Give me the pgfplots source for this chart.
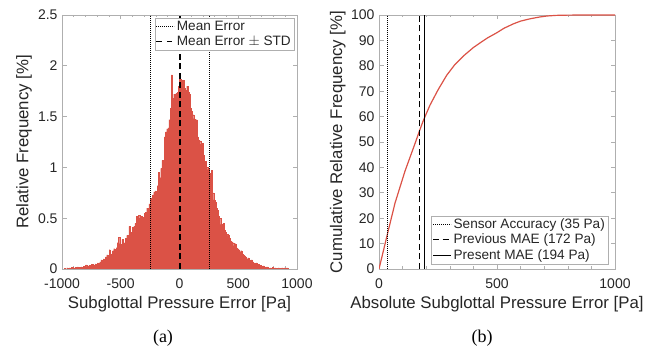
\documentclass[border=0pt]{standalone}
\usepackage{pgfplots}
\pgfplotsset{compat=1.18}
\usepackage{fontspec}
\setmainfont{Liberation Sans}
\newfontfamily\seriffont{Liberation Serif}
\definecolor{histred}{RGB}{219,82,70}
\definecolor{axgray}{RGB}{175,175,175}
\definecolor{txt}{RGB}{38,38,38}
\pgfplotsset{
 myax/.style={
  scale only axis, anchor=south west,
  axis line style={axgray, line width=0.6bp},
  every tick/.style={axgray, line width=0.6bp},
  major tick length=4.5bp, minor tick length=2.5bp,
  tick align=inside,
  tick label style={font=\fontsize{14bp}{16bp}\selectfont, text=txt},
  xticklabel style={yshift=-6bp},
  yticklabel style={xshift=-1bp},
  label style={font=\fontsize{16.8bp}{19bp}\selectfont, text=txt},
  /pgf/number format/assume math mode=true,
  /pgf/number format/1000 sep={},
  legend style={font=\fontsize{13.6bp}{15.5bp}\selectfont, draw=axgray, fill=white, text=txt, inner sep=1bp, row sep=0bp,
    nodes={inner sep=2bp, font=\fontsize{13.6bp}{15.5bp}\selectfont}, /tikz/every even column/.style={column sep=0bp}},
  legend cell align=left,
  legend image code/.code={\draw[line width=1bp, ##1] (0bp,0bp) -- (18bp,0bp);},
 }
}
\pgfplotstableread{
x y
-1000 0
-990 0
-980 0.005
-970 0
-960 0.01
-950 0.005
-940 0.01
-930 0.005
-920 0.015
-910 0.01
-900 0.005
-890 0.015
-880 0.01
-870 0.02
-860 0.015
-850 0.01
-840 0.02
-830 0.015
-820 0.025
-810 0.02
-800 0.04
-790 0.025
-780 0.03
-770 0.035
-760 0.03
-750 0.045
-740 0.04
-730 0.035
-720 0.05
-710 0.045
-700 0.06
-690 0.055
-680 0.07
-670 0.09
-660 0.08
-650 0.1
-640 0.095
-630 0.12
-620 0.14
-610 0.11
-600 0.19
-590 0.15
-580 0.13
-570 0.18
-560 0.2
-550 0.17
-540 0.21
-530 0.26
-520 0.31
-510 0.25
-500 0.24
-490 0.29
-480 0.25
-470 0.26
-460 0.3
-450 0.33
-440 0.31
-430 0.42
-420 0.35
-410 0.36
-400 0.41
-390 0.42
-380 0.45
-370 0.52
-360 0.48
-350 0.53
-340 0.5
-330 0.52
-320 0.49
-310 0.51
-300 0.55
-290 0.56
-280 0.6
-270 0.57
-260 0.64
-250 0.7
-240 0.69
-230 0.73
-220 0.76
-210 0.77
-200 0.75
-190 0.82
-180 0.95
-170 0.9
-160 0.99
-150 1.07
-140 1.06
-130 1.3
-120 1.35
-110 1.38
-100 1.39
-90 1.47
-80 1.58
-70 1.91
-60 1.68
-50 1.72
-40 1.7
-30 1.73
-20 1.74
-10 1.8
0 1.87
10 1.86
20 1.8
30 1.86
40 1.78
50 1.76
60 1.8
70 1.74
80 1.72
90 1.58
100 1.55
110 1.52
120 1.48
130 1.45
140 1.47
150 1.3
160 1.27
170 1.26
180 1.23
190 1.24
200 1.12
210 1.04
220 1.06
230 1.0
240 0.98
250 0.94
260 0.84
270 0.97
280 0.75
290 0.68
300 0.66
310 0.6
320 0.58
330 0.52
340 0.5
350 0.44
360 0.42
370 0.45
380 0.38
390 0.36
400 0.34
410 0.33
420 0.3
430 0.28
440 0.27
450 0.26
460 0.23
470 0.25
480 0.21
490 0.2
500 0.19
510 0.17
520 0.18
530 0.15
540 0.14
550 0.13
560 0.12
570 0.1
580 0.11
590 0.09
600 0.08
610 0.09
620 0.07
630 0.06
640 0.05
650 0.06
660 0.04
670 0.045
680 0.035
690 0.03
700 0.025
710 0.03
720 0.02
730 0.015
740 0.02
750 0.01
760 0.005
770 0.01
780 0.005
790 0.015
800 0.005
810 0.01
820 0
830 0.005
840 0.01
850 0.005
860 0
870 0.01
880 0.005
890 0.01
900 0.005
910 0.01
920 0
930 0
940 0
950 0
960 0
970 0
980 0
990 0
1000 0
}\histdata
\pgfplotstableread{
x y
0 0
35 13.5
68 26
110 38.5
153 49.5
172 54.5
188 58.5
216 64.5
250 70.5
287 76.3
320 80.3
357 83.8
400 87.2
428 89
460 91
499 93
530 94.8
569 96.5
600 97.6
640 98.5
680 99.2
711 99.6
750 99.85
800 99.95
900 100
1000 100
}\cdfdata
\begin{document}
\begin{tikzpicture}
\useasboundingbox (0bp,0bp) rectangle (647bp,349bp);
\begin{axis}[myax, at={(62bp,80bp)}, width=235bp, height=254bp,
  xmin=-1000, xmax=1000, ymin=0, ymax=2.5,
  xtick={-1000,-500,0,500,1000}, minor x tick num=4,
  ytick={0,0.5,1,1.5,2,2.5},
  xlabel={Subglottal Pressure Error [Pa]},
  ylabel={Relative Frequency [\%]},
  xlabel style={at={(axis description cs:0.5,-0.14)}, anchor=center},
  ylabel style={at={(axis description cs:-0.162,0.5)}, anchor=center},
  legend style={at={(axis description cs:1,1)}, anchor=north east, xshift=-3bp, yshift=-3bp},
  ]
\addplot[ybar interval, fill=histred, draw=histred, line width=0.1bp, forget plot] table[x=x,y=y] {\histdata};
\addplot[black, line width=1bp, dash pattern=on 1bp off 1bp, forget plot] coordinates {(-250,0) (-250,2.5)};
\addplot[black, line width=1bp, dash pattern=on 1bp off 1bp, forget plot] coordinates {(257,0) (257,2.5)};
\addplot[black, line width=1.2bp, dash pattern=on 6bp off 3.5bp, forget plot] coordinates {(4,0) (4,2.5)};
\addlegendimage{black, dash pattern=on 1bp off 1bp}
\addlegendentry{Mean Error}
\addlegendimage{black, dash pattern=on 5.5bp off 5bp}
\addlegendentry{Mean Error $\pm$ STD}
\end{axis}
\begin{axis}[myax, at={(379bp,80bp)}, width=236bp, height=254bp,
  xmin=0, xmax=1000, ymin=0, ymax=100,
  xtick={0,500,1000}, minor x tick num=4,
  ytick={0,10,...,100},
  xlabel={Absolute Subglottal Pressure Error [Pa]},
  ylabel={Cumulative Relative Frequency [\%]},
  xlabel style={at={(axis description cs:0.5,-0.14)}, anchor=center},
  ylabel style={at={(axis description cs:-0.175,0.5)}, anchor=center},
  legend style={at={(axis description cs:1,0)}, anchor=south east, xshift=-7bp, yshift=5bp},
  ]
\addplot[histred, line width=1.2bp, forget plot] table[x=x,y=y] {\cdfdata};
\addplot[black, line width=1bp, dash pattern=on 1bp off 1bp] coordinates {(35,0) (35,100)};
\addlegendentry{Sensor Accuracy (35 Pa)}
\addplot[black, line width=1.2bp, dash pattern=on 6bp off 3.5bp] coordinates {(172,0) (172,100)};
\addlegendentry{Previous MAE (172 Pa)}
\addplot[black, line width=1.2bp] coordinates {(194,0) (194,100)};
\addlegendentry{Present MAE (194 Pa)}
\end{axis}
\node[font=\seriffont\fontsize{18bp}{20bp}\selectfont] at (163bp,11bp) {(a)};
\node[font=\seriffont\fontsize{18bp}{20bp}\selectfont] at (482bp,11bp) {(b)};
\end{tikzpicture}
\end{document}
